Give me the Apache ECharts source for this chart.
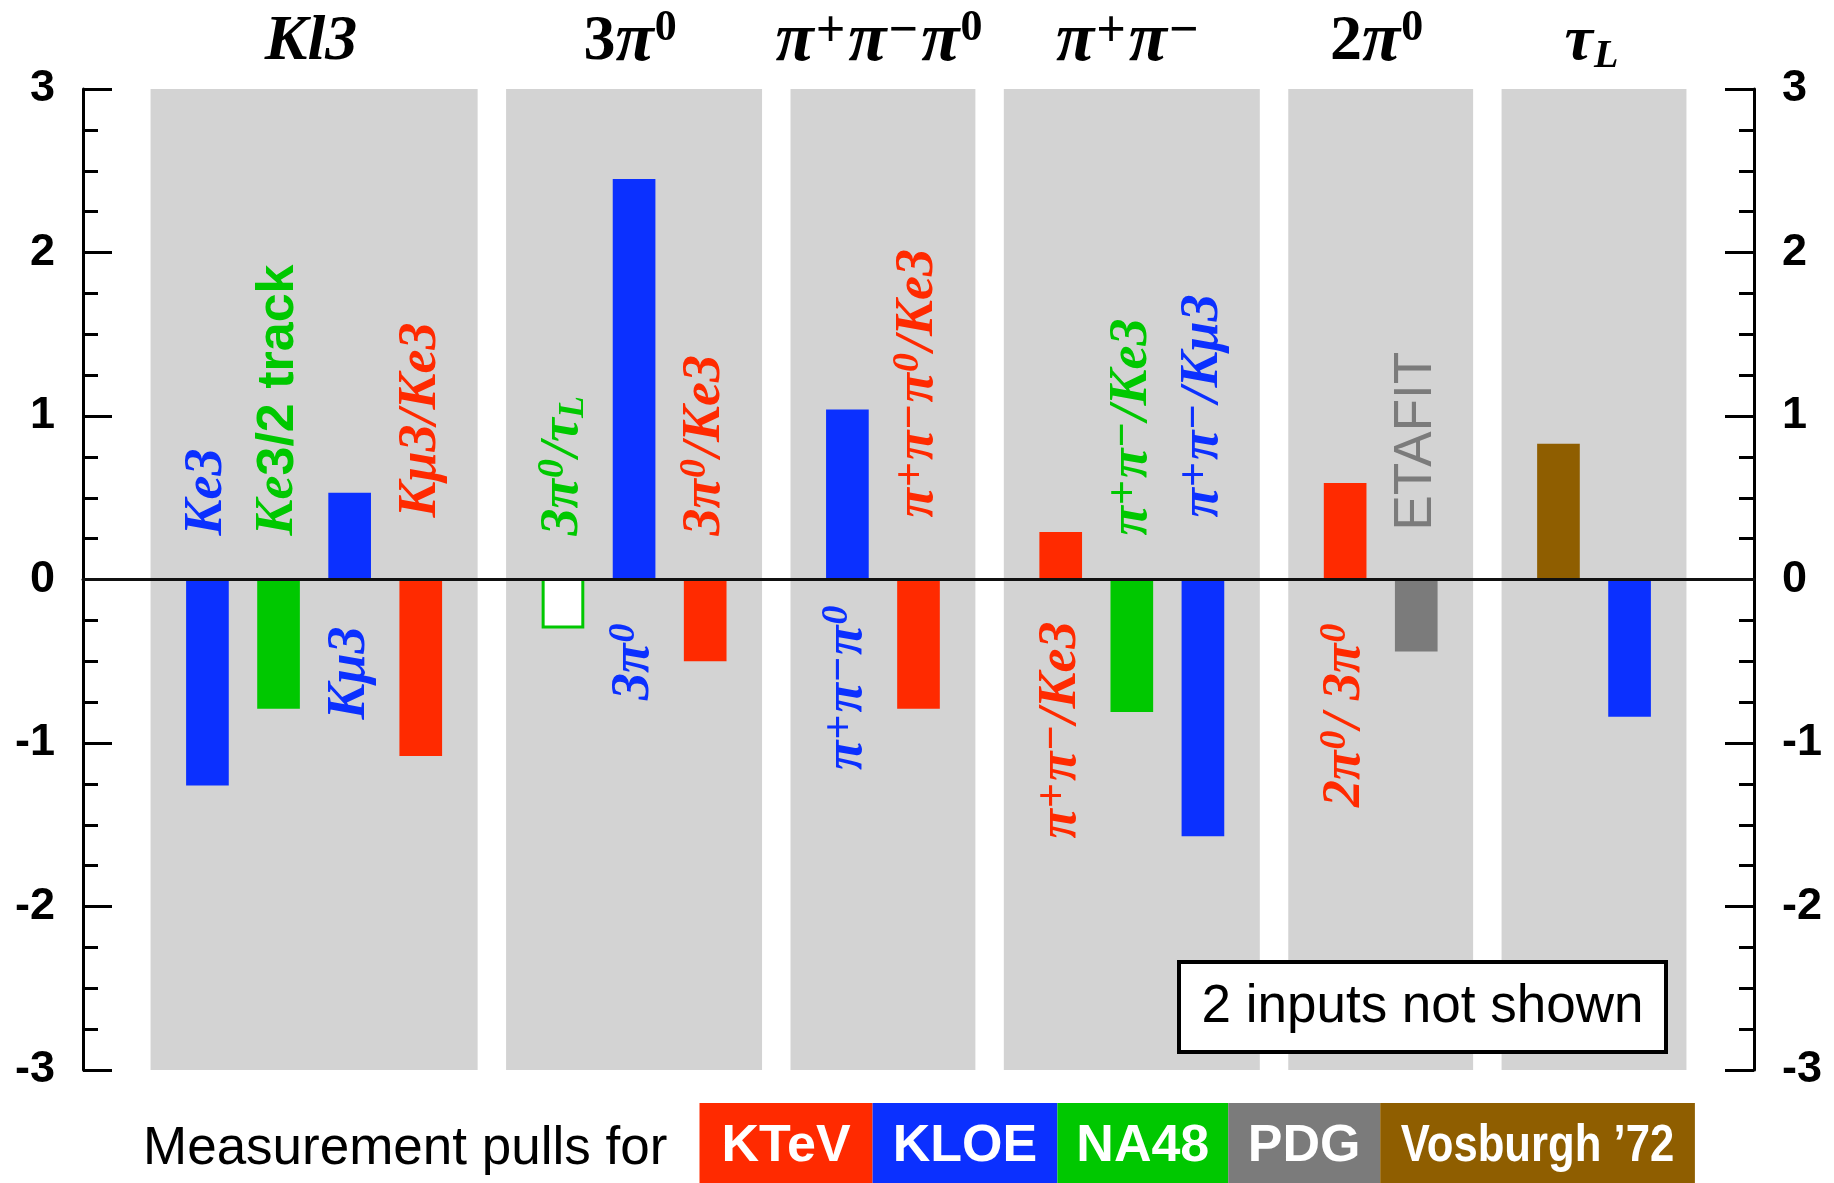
<!DOCTYPE html>
<html>
<head>
<meta charset="utf-8">
<title>Measurement pulls</title>
<script src="https://cdn.jsdelivr.net/npm/echarts@6/dist/echarts.min.js"></script>
<style>
  html, body { margin: 0; padding: 0; background: #fff; }
  #chart { width: 1834px; height: 1183px; }
</style>
</head>
<body>
<div id="chart"></div>
<script>
// ---- data -------------------------------------------------------------
// Fit groups: panel titles (rich markup) and number of inputs in each panel
const groupTitles = [
  '{t|Kl3}',
  '{r|3}{p|π}{u|0}',
  '{p|π}{c|+}{p|π}{c|−}{p|π}{u|0}',
  '{p|π}{c|+}{p|π}{c|−}',
  '{r|2}{p|π}{u|0}',
  '{t|τ}{d|L}'
];
const groupSizes = [4, 3, 2, 3, 2, 2];

// Inputs, in drawing order
const experiments = [
  'KLOE', 'NA48', 'KLOE', 'KTeV',
  'NA48', 'KLOE', 'KTeV',
  'KLOE', 'KTeV',
  'KTeV', 'NA48', 'KLOE',
  'KTeV', 'PDG',
  'Vosburgh ’72', 'KLOE'
];
const pulls = [
  -1.26, -0.79, 0.53, -1.08,
  -0.30, 2.45, -0.50,
  1.04, -0.79,
  0.29, -0.81, -1.57,
  0.59, -0.44,
  0.83, -0.84
];
// Input names (rich markup: m = serif italic, s = sans bold, g = sans,
// u = superscript digit, c = superscript charge, d = subscript)
const inputLabels = [
  '{m|Ke3}',
  '{m|Ke}{s|3/2 track}',
  '{m|Kμ3}',
  '{m|Kμ3/Ke3}',
  '{m|3π}{u|0}{m|/τ}{d|L}',
  '{m|3π}{u|0}',
  '{m|3π}{u|0}{m|/Ke3}',
  '{m|π}{c|+}{m|π}{c|−}{m|π}{u|0}',
  '{m|π}{c|+}{m|π}{c|−}{m|π}{u|0}{m|/Ke3}',
  '{m|π}{c|+}{m|π}{c|−}{m|/Ke3}',
  '{m|π}{c|+}{m|π}{c|−}{m|/Ke3}',
  '{m|π}{c|+}{m|π}{c|−}{m|/Kμ3}',
  '{m|2π}{u|0}{m|/ 3π}{u|0}',
  '{g|ETAFIT}',
  null,
  null
];
// Inputs drawn as open bars
const hollowInputs = [4];

// Experiments shown in the key, left to right
const legendExperiments = ['KTeV', 'KLOE', 'NA48', 'PDG', 'Vosburgh ’72'];
const notShownCount = 2;

// ---- styling ----------------------------------------------------------
const experimentColors = {
  'KTeV': '#ff2a00',
  'KLOE': '#0b30ff',
  'NA48': '#00c800',
  'PDG': '#7b7b7b',
  'Vosburgh ’72': '#8f5e00'
};
const PANEL = '#d3d3d3';
const SERIF = '"Liberation Serif", "Times New Roman", serif';
const SANS = '"Liberation Sans", Arial, Helvetica, sans-serif';

// distance (px) between the zero line and the near end of each input name
const labelGap = [44, 44, 47, 62, 44, 42, 44, 24, 62, 42, 44, 62, 42, 49, 0, 0];

const titleRich = {
  t: { fontFamily: SERIF, fontWeight: 'bold', fontStyle: 'italic', fontSize: 64, lineHeight: 70, fill: '#000', padding: [0, 1, 0, 1] },
  p: { fontFamily: SERIF, fontWeight: 'bold', fontStyle: 'italic', fontSize: 70, lineHeight: 70, fill: '#000' },
  r: { fontFamily: SERIF, fontWeight: 'bold', fontSize: 64, lineHeight: 70, fill: '#000' },
  u: { fontFamily: SERIF, fontWeight: 'bold', fontSize: 44, lineHeight: 40, verticalAlign: 'top', fill: '#000', padding: [0, 2, 0, 1] },
  c: { fontFamily: SERIF, fontWeight: 'bold', fontSize: 52, lineHeight: 40, verticalAlign: 'top', fill: '#000', padding: [0, 3, 0, 2] },
  d: { fontFamily: SERIF, fontWeight: 'bold', fontStyle: 'italic', fontSize: 40, lineHeight: 38, verticalAlign: 'bottom', fill: '#000' }
};
const labelRich = {
  m: { fontFamily: SERIF, fontWeight: 'bold', fontStyle: 'italic', fontSize: 54, lineHeight: 58 },
  s: { fontFamily: SANS, fontWeight: 'bold', fontSize: 52, lineHeight: 58 },
  g: { fontFamily: SANS, fontWeight: 'normal', fontSize: 53, lineHeight: 58 },
  u: { fontFamily: SERIF, fontWeight: 'bold', fontStyle: 'italic', fontSize: 38, lineHeight: 34, verticalAlign: 'top', padding: [0, 2, 0, 1] },
  c: { fontFamily: SERIF, fontWeight: 'bold', fontSize: 44, lineHeight: 34, verticalAlign: 'top', padding: [0, 2, 0, 1] },
  d: { fontFamily: SERIF, fontWeight: 'bold', fontStyle: 'italic', fontSize: 36, lineHeight: 34, verticalAlign: 'bottom' }
};

// ---- layout of inputs along x (one empty slot between panels) --------
const slotOf = [];
let counter = 0;
groupSizes.forEach((size, g) => {
  for (let i = 0; i < size; i++) { slotOf.push(counter + g); counter++; }
});
const panels = [];
let first = 0;
groupSizes.forEach((size, g) => {
  panels.push([slotOf[first] - 0.8, slotOf[first + size - 1] + 0.8, g]);
  first += size;
});
const barData = pulls.map((v, i) => [slotOf[i], v, i]);

// ---- render helpers ---------------------------------------------------
function renderPanel(params, api) {
  const a = api.coord([api.value(0), 3]);
  const b = api.coord([api.value(1), -3]);
  const g = api.value(2);
  return {
    type: 'group',
    children: [
      { type: 'rect', shape: { x: a[0], y: a[1], width: b[0] - a[0], height: b[1] - a[1] }, style: { fill: PANEL } },
      {
        type: 'text',
        x: (a[0] + b[0]) / 2 - 3,
        y: params.coordSys.y - 47,
        style: { text: groupTitles[g], rich: titleRich, align: 'center', verticalAlign: 'middle' }
      }
    ]
  };
}

function renderBar(params, api) {
  const s = api.value(0), v = api.value(1), i = api.value(2);
  const p0 = api.coord([s - 0.3, 0]);
  const p1 = api.coord([s + 0.3, v]);
  const color = experimentColors[experiments[i]];
  const x = p0[0], w = p1[0] - p0[0];
  const y = Math.min(p0[1], p1[1]), h = Math.abs(p1[1] - p0[1]);
  const children = [];
  if (hollowInputs.includes(i)) {
    children.push({ type: 'rect', shape: { x: x + 1.5, y: y, width: w - 3, height: h - 1.5 },
      style: { fill: '#fff', stroke: color, lineWidth: 3 } });
  } else {
    children.push({ type: 'rect', shape: { x: x, y: y, width: w, height: h }, style: { fill: color } });
  }
  const label = inputLabels[i];
  if (label) {
    const zero = api.coord([s, 0]);
    const above = v < 0;
    children.push({
      type: 'text',
      x: zero[0],
      y: above ? zero[1] - labelGap[i] : zero[1] + labelGap[i],
      rotation: Math.PI / 2,
      style: { text: label, rich: labelRich, fill: color, align: above ? 'left' : 'right', verticalAlign: 'middle' }
    });
  }
  return { type: 'group', children };
}

function yAxisSide(side) {
  return {
    type: 'value', position: side, min: -3, max: 3, interval: 1,
    axisLine: { show: true, onZero: false, lineStyle: { color: '#000', width: 3 } },
    axisTick: { show: true, inside: true, length: 29, lineStyle: { color: '#000', width: 3 } },
    minorTick: { show: true, splitNumber: 4, length: 15, lineStyle: { color: '#000', width: 3 } },
    splitLine: { show: false },
    minorSplitLine: { show: false },
    axisLabel: { color: '#000', fontFamily: SANS, fontWeight: 'bold', fontSize: 45, margin: 28 }
  };
}

// ---- key and note -----------------------------------------------------
const keyEdges = [699.5, 872.6, 1057.4, 1228.2, 1380.2, 1694.9];
const graphics = [
  {
    type: 'text', x: 143, y: 1149, z: 100,
    style: { text: 'Measurement pulls for', fill: '#000', font: '53px ' + SANS, align: 'left', verticalAlign: 'middle' }
  }
];
legendExperiments.forEach((name, k) => {
  const x0 = keyEdges[k], x1 = keyEdges[k + 1];
  graphics.push({ type: 'rect', z: 100, shape: { x: x0, y: 1103, width: x1 - x0, height: 80 },
    style: { fill: experimentColors[name] } });
  graphics.push({
    type: 'text', z: 101, x: (x0 + x1) / 2, y: 1147,
    scaleX: name.length > 6 ? 0.84 : 1,
    style: { text: name, fill: '#fff', font: 'bold 52px ' + SANS, align: 'center', verticalAlign: 'middle' }
  });
});
graphics.push({ type: 'rect', z: 100, shape: { x: 1179, y: 962, width: 487, height: 90 },
  style: { fill: '#fff', stroke: '#000', lineWidth: 4 } });
graphics.push({ type: 'text', z: 101, x: 1422.5, y: 1007,
  style: { text: notShownCount + ' inputs not shown', fill: '#000', font: '53px ' + SANS, align: 'center', verticalAlign: 'middle' } });

// ---- chart ------------------------------------------------------------
const chart = echarts.init(document.getElementById('chart'));
chart.setOption({
  animation: false,
  backgroundColor: '#fff',
  grid: { left: 83, right: 80, top: 89, bottom: 113, containLabel: false },
  xAxis: {
    type: 'value', min: -1.75, max: 21.75, z: 5,
    axisLine: { show: true, onZero: true, lineStyle: { color: '#111', width: 3 } },
    axisTick: { show: false }, axisLabel: { show: false }, splitLine: { show: false }
  },
  yAxis: [yAxisSide('left'), yAxisSide('right')],
  series: [
    { type: 'custom', name: 'panels', z: 1, data: panels, encode: { x: [0, 1] }, renderItem: renderPanel, silent: true },
    { type: 'custom', name: 'pulls', z: 2, data: barData, encode: { x: 0, y: 1 }, renderItem: renderBar, silent: true }
  ],
  graphic: graphics
});
</script>
</body>
</html>
